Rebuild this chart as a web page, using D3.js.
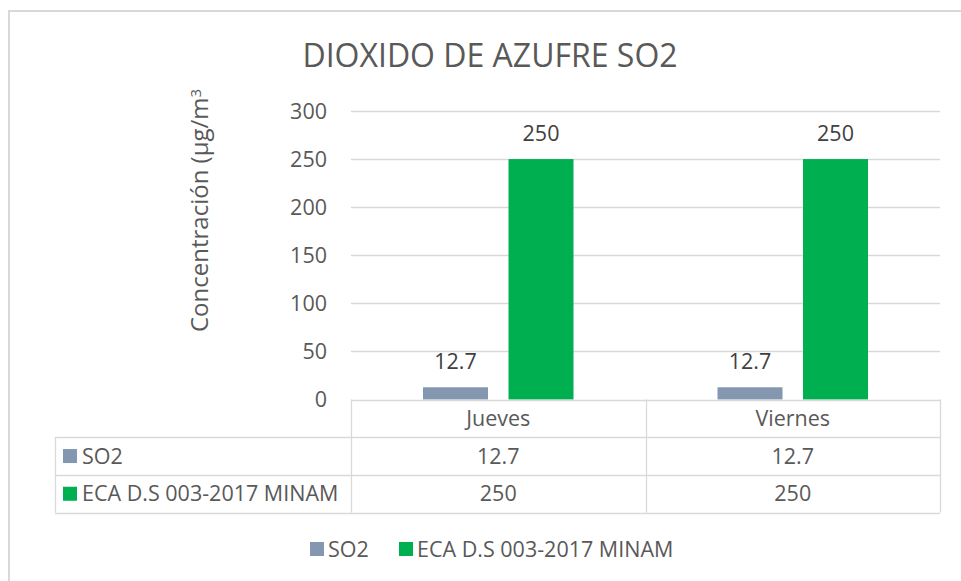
<!DOCTYPE html>
<html>
<head>
<meta charset="utf-8">
<script src="https://cdn.jsdelivr.net/npm/d3@7"></script>
<style>
  body { margin: 0; background: #fff; }
  text { font-family: "Open Sans", "Noto Sans", sans-serif; fill: #595959; }
</style>
</head>
<body>
<div id="chart"></div>
<script>
// Data
const categories = ['Jueves', 'Viernes'];
const seriesNames = ['SO2', 'ECA D.S 003-2017 MINAM'];
const so2Values = [12.7, 12.7];
const ecaValues = [250, 250];
const seriesColors = ['#8497b0', '#00b050'];
const yTicks = [0, 50, 100, 150, 200, 250, 300];

const seriesValues = [so2Values, ecaValues];

const W = 961, H = 581;
const plot = { left: 351, right: 940, top: 111, bottom: 399.5 };
const rowH = 37.7;
const tableLeft = 55;
const fs = '21.5px';

const svg = d3.select('#chart').append('svg')
  .attr('width', W).attr('height', H);

// outer chart border
svg.append('rect')
  .attr('x', 9).attr('y', 11)
  .attr('width', 960).attr('height', 600)
  .attr('fill', 'none').attr('stroke', '#d9d9d9').attr('stroke-width', 2);

// title
svg.append('text')
  .attr('x', 490).attr('y', 67)
  .attr('text-anchor', 'middle')
  .attr('font-size', '32px')
  .text('DIOXIDO DE AZUFRE SO2');

const y = d3.scaleLinear().domain([0, 300]).range([plot.bottom, plot.top]);
const x0 = d3.scaleBand().domain(categories).range([plot.left, plot.right]);
const x1 = d3.scaleBand().domain(seriesNames)
  .range([72, x0.bandwidth() - 72]).paddingInner(0.24);

// gridlines
svg.append('g').selectAll('line').data(yTicks.filter(t => t > 0)).join('line')
  .attr('x1', plot.left).attr('x2', plot.right)
  .attr('y1', d => Math.round(y(d)) + 0.5).attr('y2', d => Math.round(y(d)) + 0.5)
  .attr('stroke', '#d9d9d9').attr('stroke-width', 1.3);

// y axis tick labels
svg.append('g').selectAll('text').data(yTicks).join('text')
  .attr('x', 327).attr('y', d => y(d))
  .attr('dy', '0.35em')
  .attr('text-anchor', 'end')
  .attr('font-size', fs)
  .text(d => d);

// y axis title (clipped at top as in the original)
const yt = svg.append('text')
  .attr('transform', 'translate(208,332) rotate(-90)')
  .attr('text-anchor', 'start')
  .attr('font-size', '24px');
yt.append('tspan').text('Concentración (µg/m');
yt.append('tspan').attr('dy', '-0.45em').attr('font-size', '15px').text('3');

// bars
const groups = svg.append('g').selectAll('g').data(categories).join('g')
  .attr('transform', d => `translate(${x0(d)},0)`);

const cellData = (c, ci) => seriesNames.map((s, si) => ({ s, si, v: seriesValues[si][ci] }));

groups.selectAll('rect')
  .data(cellData)
  .join('rect')
  .attr('x', d => x1(d.s))
  .attr('y', d => y(d.v))
  .attr('width', x1.bandwidth())
  .attr('height', d => y(0) - y(d.v))
  .attr('fill', d => seriesColors[d.si]);

groups.selectAll('text.lbl')
  .data(cellData)
  .join('text')
  .attr('class', 'lbl')
  .attr('x', d => x1(d.s) + x1.bandwidth() / 2)
  .attr('y', d => y(d.v) - 18)
  .attr('text-anchor', 'middle')
  .attr('font-size', fs)
  .style('fill', '#404040')
  .text(d => d.v);

// data table
const tbl = svg.append('g').attr('stroke', '#d9d9d9').attr('stroke-width', 1.3).attr('fill', 'none');
const tableBottom = plot.bottom + rowH * 3;
[plot.bottom, plot.bottom + rowH, plot.bottom + rowH * 2, tableBottom].forEach((yy, i) => {
  tbl.append('line')
    .attr('x1', i === 0 ? plot.left : tableLeft).attr('x2', plot.right)
    .attr('y1', Math.round(yy) + 0.5).attr('y2', Math.round(yy) + 0.5);
});
tbl.append('line').attr('x1', tableLeft + 0.5).attr('x2', tableLeft + 0.5)
  .attr('y1', plot.bottom + rowH).attr('y2', tableBottom);
[plot.left, x0('Viernes'), plot.right].forEach(xx => {
  tbl.append('line').attr('x1', Math.round(xx) + 0.5).attr('x2', Math.round(xx) + 0.5)
    .attr('y1', plot.bottom).attr('y2', tableBottom);
});

// header category labels
svg.append('g').selectAll('text').data(categories).join('text')
  .attr('x', d => x0(d) + x0.bandwidth() / 2)
  .attr('y', plot.bottom + rowH / 2)
  .attr('dy', '0.35em')
  .attr('text-anchor', 'middle')
  .attr('font-size', fs)
  .text(d => d);

// table rows
seriesNames.forEach((s, si) => {
  const cy = plot.bottom + rowH * (si + 1) + rowH / 2;
  svg.append('rect')
    .attr('x', 63).attr('y', cy - 7)
    .attr('width', 14).attr('height', 14)
    .attr('fill', seriesColors[si]);
  svg.append('text')
    .attr('x', 82).attr('y', cy).attr('dy', '0.35em')
    .attr('font-size', fs)
    .text(s);
  categories.forEach((c, ci) => {
    svg.append('text')
      .attr('x', x0(c) + x0.bandwidth() / 2)
      .attr('y', cy).attr('dy', '0.35em')
      .attr('text-anchor', 'middle')
      .attr('font-size', fs)
      .text(seriesValues[si][ci]);
  });
});

// legend
const legendX = [310, 399];
seriesNames.forEach((s, i) => {
  svg.append('rect')
    .attr('x', legendX[i]).attr('y', 542)
    .attr('width', 14).attr('height', 14)
    .attr('fill', seriesColors[i]);
  svg.append('text')
    .attr('x', legendX[i] + 18).attr('y', 549).attr('dy', '0.35em')
    .attr('font-size', fs)
    .text(s);
});
</script>
</body>
</html>
